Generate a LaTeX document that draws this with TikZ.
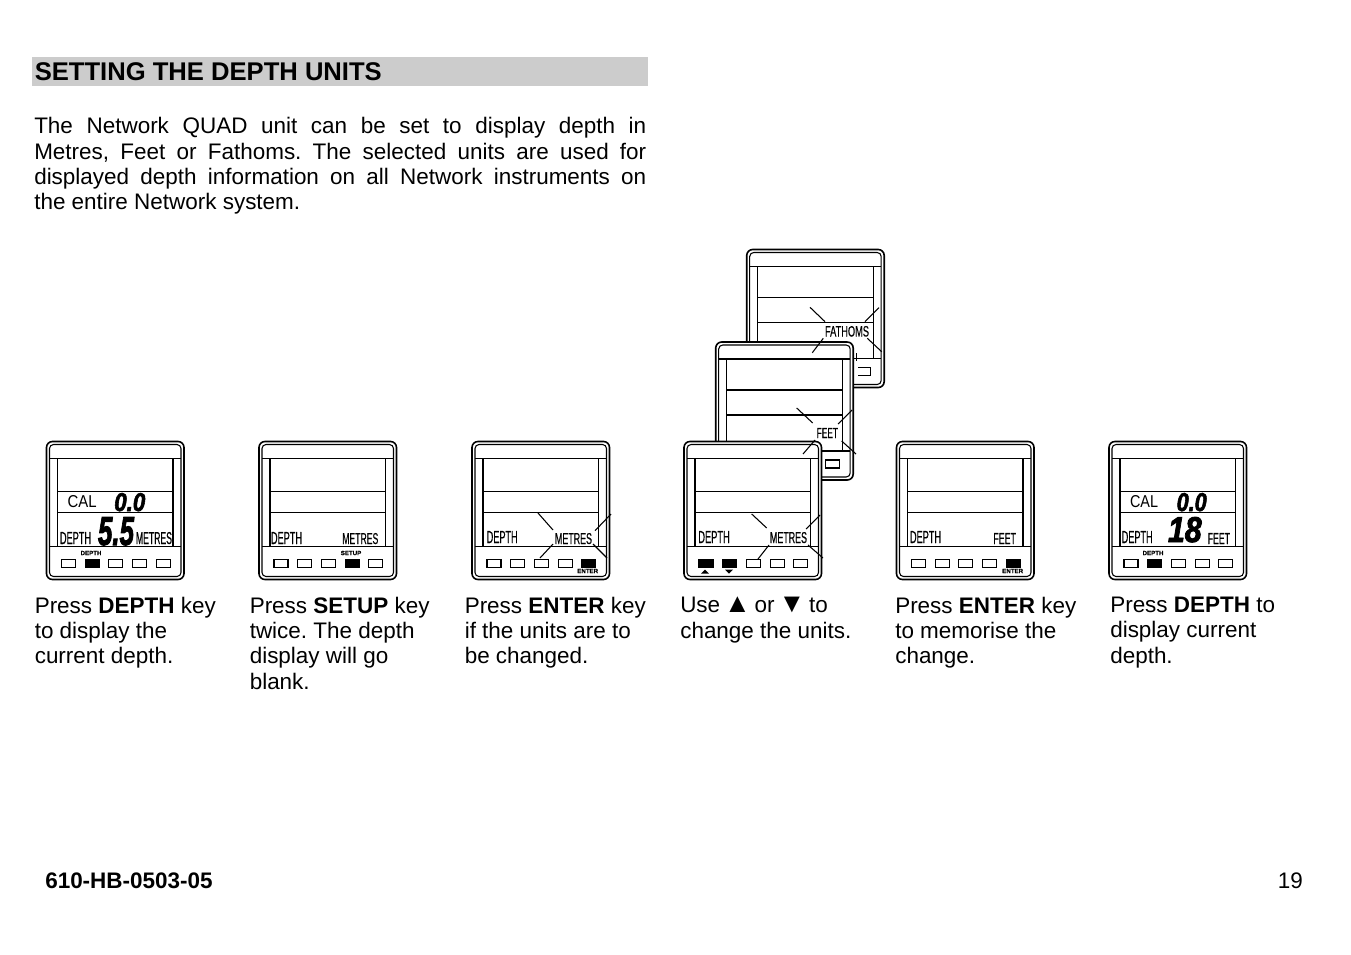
\documentclass[tikz,border=0pt]{standalone}
\usepackage{fontspec}
\usepackage{graphicx}
\setmainfont{Liberation Sans}
\newfontfamily\lcdfont[UprightFont=* Bold Italic, FakeBold=2.5]{Liberation Sans}
\newfontfamily\lcdplain[FakeBold=.5]{Liberation Sans}
\frenchspacing
\newlength{\pxu}
\setlength{\pxu}{.75pt}

\tikzset{
	caseline/.style={black, line width=1.2pt, rounded corners=4.5pt, fill=white},
	innerline/.style={black, line width=.8pt, rounded corners=3pt},
	screenline/.style={black, line width=1pt},
	keybox/.style={black, line width=.8pt, fill=white},
	keyfill/.style={black, fill=black, line width=.8pt},
	flash/.style={black, line width=.8pt},
	lcdlabel/.style={anchor=north west, inner sep=0pt, outer sep=0pt, font=\lcdplain},
	keylabel/.style={inner sep=0pt, font=\lcdplain\bfseries\fontsize{4.6}{5}\selectfont},
	caption/.style={anchor=north west, inner sep=0pt, align=left, font=\fontsize{16.85}{19.1}\selectfont, execute at begin node={\rule{0pt}{13pt}}},
}

% one unit: left, top, then the three rows of the screen
\newcommand{\quadunit}[5]{
	\begin{scope}[shift={(#1,#2)}]
		\draw[caseline] (0,0) rectangle (137.5,138);
		\draw[innerline] (3,3) rectangle (134.5,135);
		\draw[screenline] (3,17) -- (134.5,17);
		\draw[screenline] (3,#5) -- (134.5,#5);
		\draw[screenline] (11,17) -- (11,#5);
		\draw[screenline] (126.5,17) -- (126.5,#5);
		\draw[screenline] (11,#3) -- (126.5,#3);
		\draw[screenline] (11,#4) -- (126.5,#4);
		\foreach \k in {0,...,4}
			\draw[keybox] ({15+23.7*\k},118) rectangle ++(14,8);
	\end{scope}
}
\newcommand{\quadkey}[3]{
	\draw[keyfill] ({#1+15+23.7*#3},#2+118) rectangle ++(14,8);
}
% stretched display text: name, left, top, width, height
\newcommand{\lcd}[6]{
	\node[lcdlabel] (#1) at (#2,#3) {\resizebox{#4\pxu}{#5\pxu}{#6}};
}

\begin{document}
\begin{tikzpicture}[x=.75pt, y=-.75pt]
	\useasboundingbox (0,0) rectangle (1351,954);
	\fill[white] (0,0) rectangle (1351,954);

	\fill[gray!40] (32,57) rectangle (648,86);
	\node[anchor=north west, inner sep=0pt, font=\bfseries\fontsize{19.2}{22}\selectfont] (title) at (34.5,62.5) {SETTING THE DEPTH UNITS};
	\node[anchor=north west, inner sep=0pt, text width=459pt, align=justify, font=\fontsize{16.85}{19.1}\selectfont] (intro) at (34,117) {The Network QUAD unit can be set to display depth in\linebreak Metres, Feet or Fathoms. The selected units are used for\linebreak displayed depth information on all Network instruments on\linebreak the entire Network system.};

	% stack, back to front
	\quadunit{746.7}{249.5}{48}{73}{109}
	\fill[white] (853,362) rectangle (857.5,380);
	\draw[black, line width=.5pt] (856,353) -- (856,361);
	\quadunit{715.7}{342}{48}{73}{109}
	\quadunit{684}{441.5}{50}{71}{105}
	\quadkey{684}{441.5}{0}
	\quadkey{684}{441.5}{1}
	\fill[black] (701,573.5) -- (705,569.5) -- (709,573.5) -- cycle;
	\fill[black] (725,569.5) -- (729,573.5) -- (733,569.5) -- cycle;

	\quadunit{46.5}{441.5}{50}{71}{105}
	\quadunit{259}{441.5}{50}{71}{105}
	\quadunit{472}{441.5}{50}{71}{105}
	\quadunit{896.5}{441.5}{50}{71}{105}
	\quadunit{1109}{441.5}{50}{71}{105}
	\quadkey{46.5}{441.5}{1}
	\quadkey{259}{441.5}{3}
	\quadkey{472}{441.5}{4}
	\quadkey{896.5}{441.5}{4}
	\quadkey{1109}{441.5}{1}

	\node[keylabel] (keydepth) at (91,553) {DEPTH};
	\node[keylabel] (keysetup) at (351,553) {SETUP};
	\node[keylabel] (keyenter) at (587.7,571) {ENTER};
	\node[keylabel] (keyentertwo) at (1012.7,571) {ENTER};
	\node[keylabel] (keydepthtwo) at (1153,553) {DEPTH};

	\lcd{calone}{67.7}{495}{29}{12}{\normalfont CAL}
	\lcd{calvalone}{114.3}{493}{31}{18}{\lcdfont 0.0}
	\lcd{depthvalone}{98}{517}{36}{28}{\lcdfont 5.5}
	\lcd{depthone}{60}{532}{31}{12}{DEPTH}
	\lcd{metresone}{136}{532}{36}{12}{METRES}

	\lcd{depthtwo}{271}{532}{31}{12}{DEPTH}
	\lcd{metrestwo}{342.3}{533}{36}{11}{METRES}

	\lcd{depththree}{486.7}{531}{31}{12}{DEPTH}
	\lcd{metresthree}{555}{533}{37}{11}{METRES}

	\lcd{depthfour}{698.3}{531}{31.5}{12}{DEPTH}
	\lcd{metresfour}{770}{532}{37}{11}{METRES}

	\lcd{depthfive}{910}{531}{31}{12}{DEPTH}
	\lcd{feetfive}{993.3}{533}{22.7}{11}{FEET}

	\lcd{calsix}{1130}{495}{28}{12}{\normalfont CAL}
	\lcd{calvalsix}{1176.7}{493}{30}{18}{\lcdfont 0.0}
	\lcd{depthvalsix}{1168}{517}{33.7}{25}{\lcdfont 18}
	\lcd{depthsix}{1121.7}{531}{31}{12}{DEPTH}
	\lcd{feetsix}{1207.7}{533}{22.3}{11}{FEET}

	\lcd{fathoms}{825}{326}{44}{10.5}{FATHOMS}
	\lcd{feetmid}{816.7}{428}{21.3}{10}{FEET}

	% flash marks
	\draw[flash] (810,307.3) -- (825,321.7);
	\draw[flash] (865,321.7) -- (879,307.7);
	\draw[flash] (867.3,338.3) -- (881.7,351.7);
	\draw[flash] (823.3,338.3) -- (812.3,352.7);

	\draw[flash] (796.7,408) -- (812.7,423);
	\draw[flash] (838,424) -- (852,410);
	\draw[flash] (841.7,441) -- (856,454);
	\draw[flash] (815,440) -- (803,454);

	\draw[flash] (751.7,514) -- (766.7,528);
	\draw[flash] (806,529) -- (820,515);
	\draw[flash] (808,545) -- (823,558);
	\draw[flash] (769,545) -- (758,559);

	\draw[flash] (538,513) -- (553,530);
	\draw[flash] (595,530.7) -- (611,514);
	\draw[flash] (593,544) -- (607,558);
	\draw[flash] (553,544) -- (540,558);

	\node[caption] (capone) at (34.5,596.5) {Press \textbf{DEPTH} key\\to display the\\current depth.};
	\node[caption] (captwo) at (249.5,596.5) {Press \textbf{SETUP} key\\twice. The depth\\display will go\\blank.};
	\node[caption] (capthree) at (464.5,596.5) {Press \textbf{ENTER} key\\if the units are to\\be changed.};
	\node[caption] (capfour) at (680,596.5) {Use \makebox[16.5pt]{\scalebox{1.2}{▲}} or \makebox[16.5pt]{\scalebox{1.2}{▼}} to\\change the units.};
	\node[caption] (capfive) at (895,596.5) {Press \textbf{ENTER} key\\to memorise the\\change.};
	\node[caption] (capsix) at (1110,596.5) {Press \textbf{DEPTH} to\\display current\\depth.};

	\node[anchor=north west, inner sep=0pt, font=\bfseries\fontsize{16.85}{19.1}\selectfont] (partno) at (45,872.5) {610-HB-0503-05};
	\node[anchor=north east, inner sep=0pt, font=\fontsize{16.85}{19.1}\selectfont] (pageno) at (1303,872.5) {19};
\end{tikzpicture}
\end{document}
